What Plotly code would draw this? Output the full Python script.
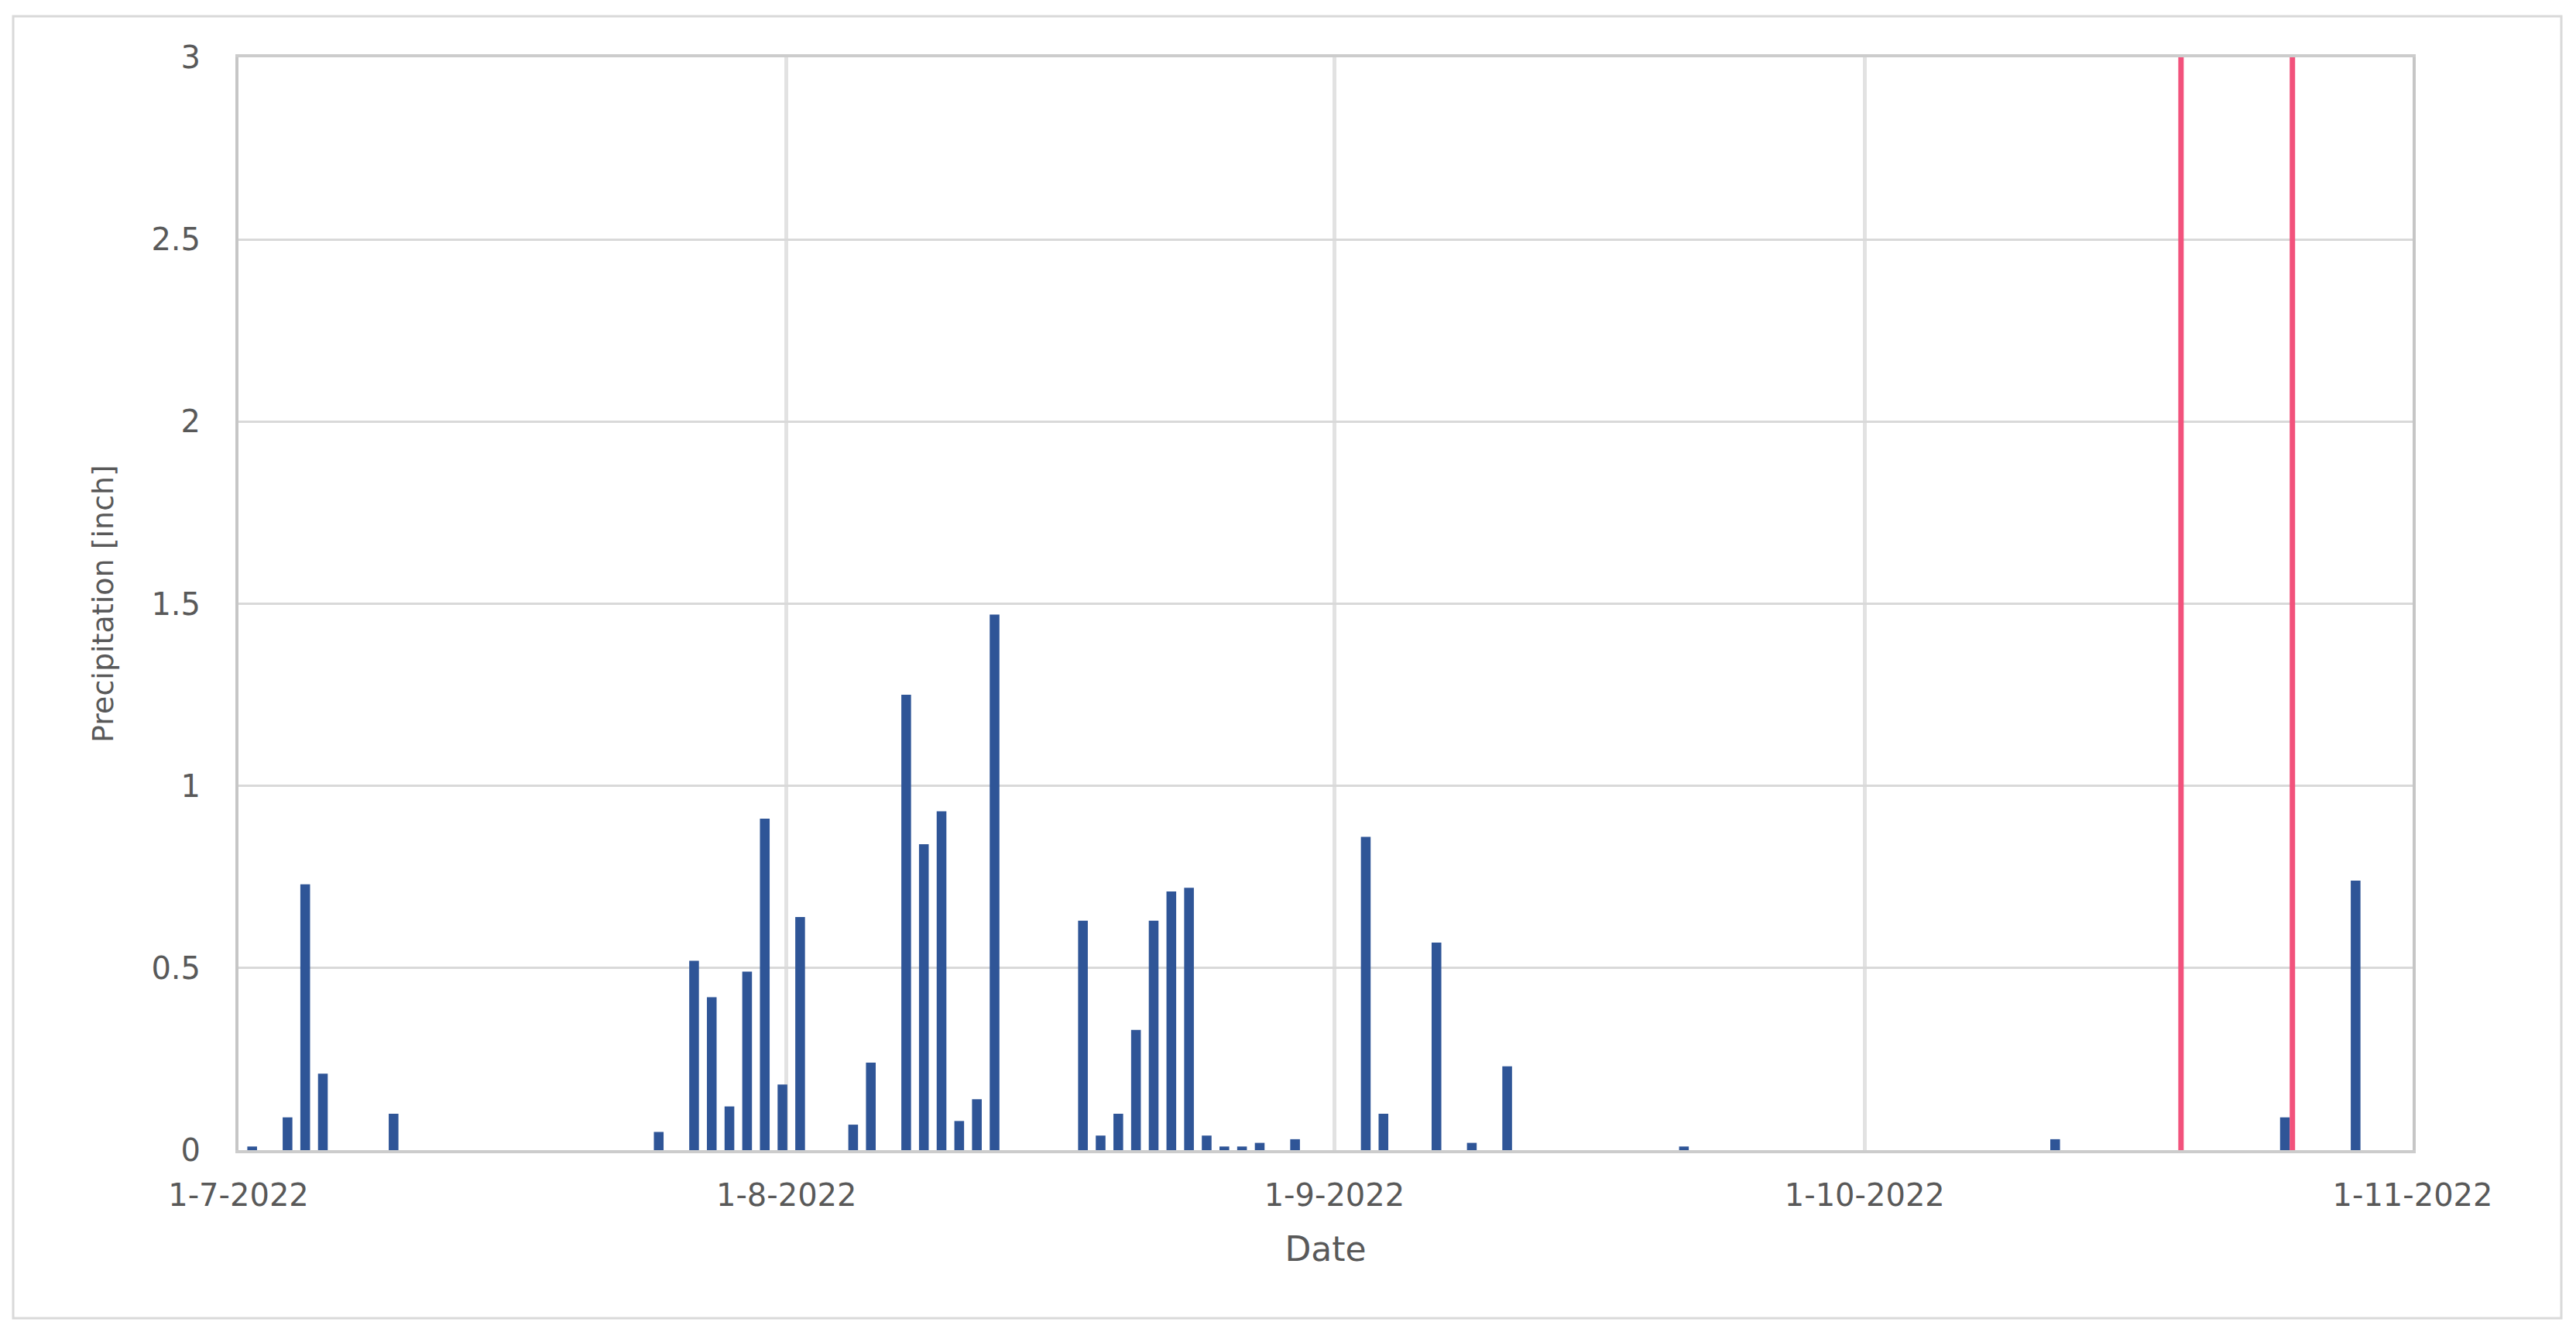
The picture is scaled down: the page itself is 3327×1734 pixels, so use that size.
import plotly.graph_objects as go

# daily precipitation (inch), Jul-Oct 2022
dates = [
    '2022-07-01', '2022-07-03', '2022-07-04', '2022-07-05', '2022-07-09',
    '2022-07-24', '2022-07-26', '2022-07-27', '2022-07-28', '2022-07-29',
    '2022-07-30', '2022-07-31', '2022-08-01', '2022-08-04', '2022-08-05',
    '2022-08-07', '2022-08-08', '2022-08-09', '2022-08-10', '2022-08-11',
    '2022-08-12', '2022-08-17', '2022-08-18', '2022-08-19', '2022-08-20',
    '2022-08-21', '2022-08-22', '2022-08-23', '2022-08-24', '2022-08-25',
    '2022-08-26', '2022-08-27', '2022-08-29', '2022-09-02', '2022-09-03',
    '2022-09-06', '2022-09-08', '2022-09-10', '2022-09-20', '2022-10-11',
    '2022-10-24', '2022-10-28',
]
precip = [
    0.01, 0.09, 0.73, 0.21, 0.10,
    0.05, 0.52, 0.42, 0.12, 0.49,
    0.91, 0.18, 0.64, 0.07, 0.24,
    1.25, 0.84, 0.93, 0.08, 0.14,
    1.47, 0.63, 0.04, 0.10, 0.33,
    0.63, 0.71, 0.72, 0.04, 0.01,
    0.01, 0.02, 0.03, 0.86, 0.10,
    0.57, 0.02, 0.23, 0.01, 0.03,
    0.09, 0.74,
]

# marker lines
event_dates = ['2022-10-18 21:30', '2022-10-25 04:45']

x_range = ['2022-07-01', '2022-11-01']
y_ticks = [0, 0.5, 1, 1.5, 2, 2.5, 3]

DAY_MS = 86400000
W, H = 3327, 1734
PAD = 8  # default body margin of the html page
L, R, T, B = 308, 211, 74, 249
FONT = 'DejaVu Sans'
GRAY = '#595959'

fig = go.Figure(go.Bar(
    x=dates,
    y=precip,
    width=0.55 * DAY_MS,
    offset=0.5 * DAY_MS,
    marker_color='#2f5597',
    marker_line_width=0,
    showlegend=False,
))

for d in event_dates:
    fig.add_vline(x=d, line_color='#f2527c', line_width=7)

# outer chart frame, placed in pixels then converted to paper units
pw, ph = W - L - R, H - T - B
fx0, fx1, fy_top, fy_bot = 17, 3308, 21, 1702
fig.add_shape(
    type='rect', xref='paper', yref='paper',
    x0=(fx0 - L) / pw, x1=(fx1 - L) / pw,
    y0=(H - B - fy_bot) / ph, y1=(H - B - fy_top) / ph,
    line=dict(color='#d9d9d9', width=3), fillcolor='rgba(0,0,0,0)',
    layer='below',
)

fig.update_layout(
    width=W - PAD, height=H - PAD,
    margin=dict(l=L - PAD, r=R, t=T - PAD, b=B, autoexpand=False),
    paper_bgcolor='white',
    plot_bgcolor='white',
    font=dict(family=FONT, color=GRAY),
    showlegend=False,
)

fig.update_xaxes(
    type='date',
    range=x_range,
    dtick='M1',
    tick0='2022-07-01',
    tickformat='%-d-%-m-%Y',
    tickfont=dict(size=40, color=GRAY),
    ticklabelstandoff=20,
    showgrid=True, gridcolor='#e2e2e2', gridwidth=5,
    showline=True, linecolor='#cccccc', linewidth=4, mirror=True,
    ticks='',
    title=dict(text='Date', font=dict(size=44, color=GRAY), standoff=33),
)

fig.update_yaxes(
    range=[0, 3],
    tickvals=y_ticks,
    ticktext=[f'{v:g}' for v in y_ticks],
    tickfont=dict(size=40, color=GRAY),
    ticklabelstandoff=37,
    showgrid=True, gridcolor='#d9d9d9', gridwidth=3,
    showline=True, linecolor='#c6c6c6', linewidth=4, mirror=True,
    zeroline=False,
    ticks='',
    title=dict(text='Precipitation [inch]', font=dict(size=38, color=GRAY), standoff=38),
)

fig.write_html("out.html")
